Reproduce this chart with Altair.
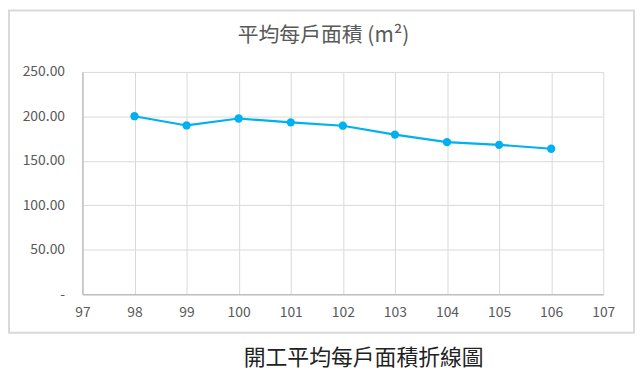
import altair as alt
import pandas as pd

years = [98, 99, 100, 101, 102, 103, 104, 105, 106]
areas = [200.2, 189.8, 197.6, 193.3, 189.5, 179.5, 171.0, 168.0, 163.6]
x_ticks = [97, 98, 99, 100, 101, 102, 103, 104, 105, 106, 107]
y_ticks = [0, 50, 100, 150, 200, 250]
chart_title = "平均每戶面積 (m²)"
caption = "開工平均每戶面積折線圖"

df = pd.DataFrame({"year": years, "area": areas})

W, H = 525, 224
FONT = "Noto Sans CJK TC"
GRAY = "#595959"

x_enc = alt.X(
    "year:Q",
    scale=alt.Scale(domain=[97, 107], nice=False, zero=False),
    axis=alt.Axis(
        values=x_ticks,
        format="d",
        ticks=False,
        grid=True,
        gridColor="#d9d9d9",
        domainColor="#bfbfbf",
        domainWidth=1.5,
        labelFont=FONT,
        labelFontSize=14,
        labelColor=GRAY,
        labelPadding=12,
        labelFlush=False,
        title=caption,
        titleFont=FONT,
        titleFontSize=22,
        titleFontWeight="normal",
        titleColor="#222222",
        titleX=283,
        titleY=64,
        titleAlign="center",
        titleBaseline="middle",
    ),
)
y_enc = alt.Y(
    "area:Q",
    scale=alt.Scale(domain=[0, 250], nice=False),
    axis=alt.Axis(
        values=y_ticks,
        labelExpr="datum.value == 0 ? '-' : format(datum.value, '.2f')",
        ticks=False,
        grid=True,
        gridColor="#d9d9d9",
        domainColor="#bfbfbf",
        domainWidth=1.5,
        labelFont=FONT,
        labelFontSize=14,
        labelColor=GRAY,
        labelPadding=18,
        labelFlush=False,
        title=None,
    ),
)

line = alt.Chart(df).mark_line(
    color="#00b0f0", strokeWidth=2.2,
    point=alt.OverlayMarkDef(filled=True, size=70, color="#00b0f0"),
).encode(x=x_enc, y=y_enc)

border = alt.Chart(pd.DataFrame({"k": [0]})).mark_rect(
    fill=None, fillOpacity=0, stroke="#d9d9d9", strokeWidth=2
).encode(
    x=alt.value(-74), x2=alt.value(556),
    y=alt.value(-62), y2=alt.value(263),
)

title_mark = alt.Chart(pd.DataFrame({"t": [chart_title]})).mark_text(
    font=FONT, fontSize=21, color=GRAY, align="center", baseline="middle"
).encode(
    text="t:N",
    x=alt.value(243),
    y=alt.value(-36),
)

chart = alt.layer(border, line, title_mark).properties(
    width=W,
    height=H,
    autosize=alt.AutoSizeParams(type="none"),
    padding={"left": 75, "top": 63, "right": 33, "bottom": 77},
).configure_view(stroke=None)

chart.save("out.html", embed_options={"renderer": "svg", "actions": False})
